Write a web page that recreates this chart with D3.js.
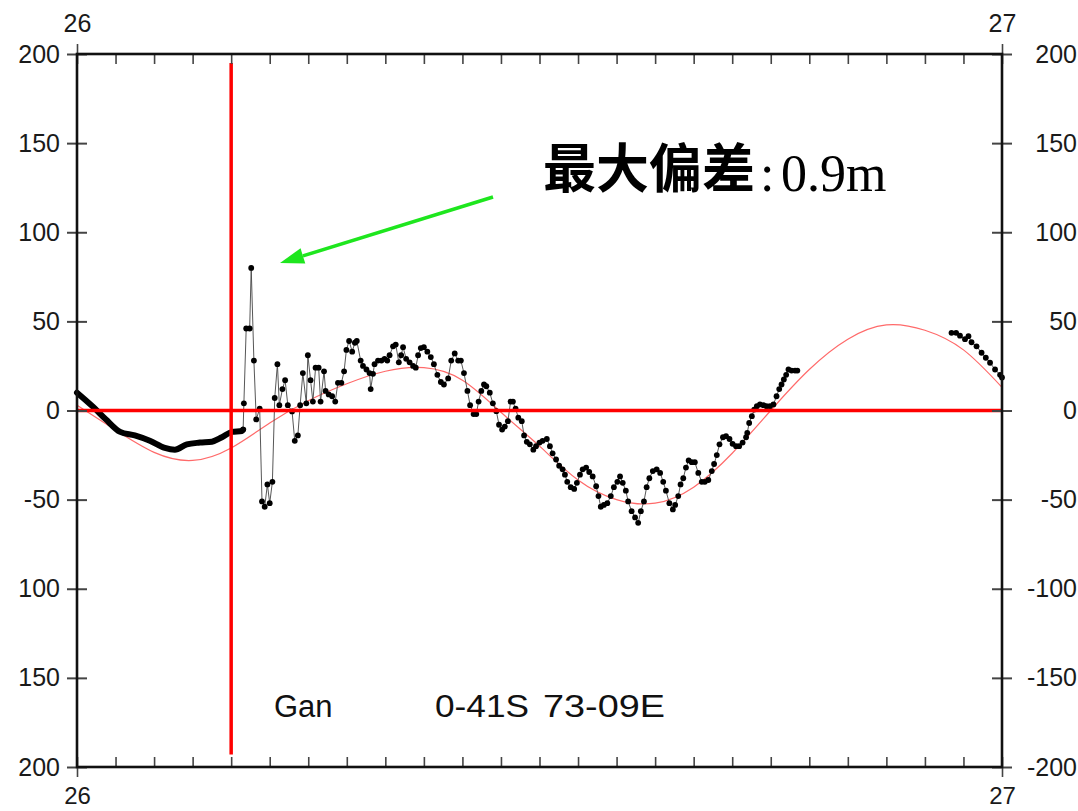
<!DOCTYPE html>
<html>
<head>
<meta charset="utf-8">
<script src="https://cdn.jsdelivr.net/npm/d3@7"></script>
<style>
  html, body { margin: 0; padding: 0; background: #fff; }
  svg { display: block; }
  .tick text { font-family: "Liberation Sans", Arial, sans-serif; font-size: 25px; fill: #1a1a1a; }
</style>
</head>
<body>
<svg id="chart" width="1078" height="811"></svg>
<script>
// day labels at both ends of the time axis (hours 0 and 24)
const dayLabels = ["26", "27"];
const hourTicks = [0,1,2,3,4,5,6,7,8,9,10,11,12,13,14,15,16,17,18,19,20,21,22,23,24];

// sea level ticks (cm)
const levelTicks = [200, 150, 100, 50, 0, -50, -100, -150, -200];
const leftLabels = ["200", "150", "100", "50", "0", "-50", "100", "150", "200"];
const rightLabels = ["200", "150", "100", "50", "0", "-50", "-100", "-150", "-200"];

// predicted tide, hourly
const predHours = [0,1,2,3,4,5,6,7,8,9,10,11,12,13,14,15,16,17,18,19,20,21,22,23,24];
const predLevel = [3, -11, -23.5, -28, -21, -7, 5.5, 15, 22, 24, 17, -1, -20, -39, -50, -52, -43, -24, 0, 23, 40, 48, 45, 34, 13];

// observed, dense part before the arrival (drawn as a thick trace)
const denseHours = [0.00, 0.42, 0.75, 1.12, 1.50, 1.89, 2.28, 2.54, 2.85, 3.19, 3.50, 3.76, 4.02, 4.28, 4.31];
const denseLevel = [10, 2, -5, -12, -14, -17, -21, -22, -19, -18, -17.5, -15, -12, -11.5, -10.7];

// observed samples after the arrival
const obsHours = [4.31, 4.33, 4.39, 4.48, 4.52, 4.59, 4.65, 4.74, 4.80, 4.87, 4.94, 5.00, 5.07, 5.13, 5.20, 5.25,
  5.33, 5.40, 5.47, 5.58, 5.65, 5.73, 5.79, 5.86, 5.95, 5.99, 6.06, 6.12, 6.19, 6.27, 6.32, 6.41, 6.45, 6.53,
  6.62, 6.70, 6.77, 6.86, 6.93, 6.99, 7.06, 7.14, 7.21, 7.26, 7.36, 7.42, 7.51, 7.59, 7.62, 7.68, 7.72, 7.81,
  7.90, 7.98, 8.05, 8.11, 8.20, 8.27, 8.35, 8.41, 8.46, 8.54, 8.63, 8.72, 8.79, 8.85, 8.92, 9.00, 9.09, 9.18,
  9.26, 9.35, 9.44, 9.52, 9.63, 9.71, 9.80, 9.89, 9.96, 10.04, 10.13, 10.20, 10.29, 10.36, 10.42, 10.49, 10.56,
  10.62, 10.71, 10.79, 10.88, 10.95, 11.03, 11.10, 11.18, 11.25, 11.31, 11.38, 11.45, 11.54, 11.60, 11.67,
  11.75, 11.84, 11.91, 12.00, 12.08, 12.19, 12.27, 12.34, 12.43, 12.51, 12.60, 12.66, 12.72, 12.81, 12.90,
  12.97, 13.05, 13.12, 13.21, 13.29, 13.38, 13.47, 13.53, 13.59, 13.67, 13.76, 13.85, 13.93, 14.02, 14.09,
  14.16, 14.24, 14.30, 14.39, 14.48, 14.56, 14.63, 14.71, 14.78, 14.85, 14.94, 15.04, 15.13, 15.21, 15.28,
  15.37, 15.46, 15.52, 15.60, 15.66, 15.73, 15.80, 15.87, 15.95, 16.03, 16.12, 16.21, 16.29, 16.38, 16.47,
  16.53, 16.60, 16.67, 16.76, 16.84, 16.93, 17.01, 17.10, 17.18, 17.27, 17.36, 17.39, 17.44, 17.51, 17.57,
  17.64, 17.72, 17.81, 17.89, 17.98, 18.07, 18.15, 18.22, 18.28, 18.34, 18.40, 18.46, 18.54, 18.63, 18.69];
const obsLevel = [-10.7, 4, 46, 46, 80, 28, -5, 1, -51, -54, -41.5, -52, -40, 7, 26, 3,
  12, 17, 3, -0.5, -17, -14, 3, 21, 4, 31, 17, 5, 24, 24, 5, 22, 11, 9,
  8, 5, 15.5, 15.5, 22, 34, 39, 33, 38, 39, 28, 25, 23, 21, 12, 20.6, 26, 28,
  28, 29, 28, 31, 36, 37, 27, 31, 35.5, 29, 27, 25, 24, 31, 35, 35.5, 33, 30,
  26, 20, 16, 14.6, 18, 28, 32, 28, 28, 21, 11, 3, -2, -2, 5, 11, 14.6,
  13.6, 10, 4, -0.4, -8, -10.7, -9, -6, 5, 5, 1, -4, -6, -14, -17.6,
  -19, -22, -20, -18, -17, -16, -20, -24, -27.5, -31, -33, -36, -40, -43, -44,
  -40.6, -36, -33, -32, -34.5, -37, -42.5, -48, -54, -53, -52, -48, -43, -40, -37,
  -40.6, -45, -51, -56.5, -60, -63, -56.5, -51, -43, -38, -34, -33, -35, -40, -45,
  -52, -55.5, -53, -48, -41.5, -38, -32, -28, -29, -29, -35, -40, -40, -39, -34,
  -30, -25, -19, -15, -14.4, -16, -18.7, -20, -20, -18, -15, -12.5, -7, -3.2, 0.5,
  2.4, 3.4, 3, 2.4, 2.4, 3.4, 8, 12, 14.6, 17.4, 20, 23, 22.4, 22.4, 22.4];

// observed samples at the end of the day
const tailHours = [22.69, 22.81, 22.91, 23.04, 23.13, 23.21, 23.34, 23.47, 23.58, 23.69, 23.82, 23.95, 24.0];
const tailLevel = [43.6, 43.6, 42, 40, 41.7, 38.3, 36, 32.4, 29.6, 26.8, 23, 20, 18.5];

// arrival marker (hour) and station text
const arrivalHour = 4;
const station = "Gan";
const position = ["0-41S", "73-09E"];
const noteCjk = "最大偏差";
const noteValue = [":", "0.9m"];

const svg = d3.select("#chart");
const plotL = 77, plotR = 1002, plotT = 54, plotB = 767;

const x = d3.scaleLinear().domain([0, 24]).range([plotL, plotR]);
const y = d3.scaleLinear().domain([-200, 200]).range([plotB, plotT]);

const zip = (a, b) => a.map((d, i) => [d, b[i]]);
const pred = zip(predHours, predLevel);
const dense = zip(denseHours, denseLevel);
const obs = zip(obsHours, obsLevel);
const tail = zip(tailHours, tailLevel);

// predicted tide
svg.append("path")
    .datum(pred)
    .attr("fill", "none")
    .attr("stroke", "#ff6a6a")
    .attr("stroke-width", 1.2)
    .attr("d", d3.line().x(d => x(d[0])).y(d => y(d[1])).curve(d3.curveNatural));

// dense trace
svg.append("path")
    .datum(dense)
    .attr("fill", "none")
    .attr("stroke", "#000")
    .attr("stroke-width", 6)
    .attr("stroke-linecap", "round")
    .attr("stroke-linejoin", "round")
    .attr("d", d3.line().x(d => x(d[0])).y(d => y(d[1])).curve(d3.curveMonotoneX));

// sampled series: thin connecting line + dots
[obs, tail].forEach(series => {
  svg.append("path")
      .datum(series)
      .attr("fill", "none")
      .attr("stroke", "#444")
      .attr("stroke-width", 0.9)
      .attr("d", d3.line().x(d => x(d[0])).y(d => y(d[1])));
  svg.append("g")
    .selectAll("circle")
    .data(series)
    .join("circle")
      .attr("cx", d => x(d[0]))
      .attr("cy", d => y(d[1]))
      .attr("r", 2.9)
      .attr("fill", "#000");
});

// red reference lines
svg.append("line")
    .attr("x1", x(0)).attr("x2", x(24))
    .attr("y1", y(0)).attr("y2", y(0))
    .attr("stroke", "#ff0000").attr("stroke-width", 3.5);
svg.append("line")
    .attr("x1", x(arrivalHour)).attr("x2", x(arrivalHour))
    .attr("y1", y(195)).attr("y2", y(-193))
    .attr("stroke", "#ff0000").attr("stroke-width", 3.5);

// axes
const leftAxis = svg.append("g")
    .attr("transform", `translate(${plotL},0)`)
    .call(d3.axisLeft(y).tickValues(levelTicks).tickSize(0).tickPadding(17)
      .tickFormat((d, i) => leftLabels[i]));
leftAxis.selectAll(".tick line").attr("x1", -10).attr("x2", 10)
    .attr("stroke", "#444").attr("stroke-width", 2);

const rightAxis = svg.append("g")
    .attr("transform", `translate(${plotR},0)`)
    .call(d3.axisRight(y).tickValues(levelTicks).tickSize(0)
      .tickFormat((d, i) => rightLabels[i]));
rightAxis.selectAll(".tick line").attr("x1", -10).attr("x2", 10)
    .attr("stroke", "#444").attr("stroke-width", 2);
rightAxis.selectAll(".tick text").attr("x", 75).attr("text-anchor", "end");

const topAxis = svg.append("g")
    .attr("transform", `translate(0,${plotT})`)
    .call(d3.axisTop(x).tickValues(hourTicks).tickSize(-10).tickPadding(22)
      .tickFormat(d => d === 0 ? dayLabels[0] : d === 24 ? dayLabels[1] : ""));
const bottomAxis = svg.append("g")
    .attr("transform", `translate(0,${plotB})`)
    .call(d3.axisBottom(x).tickValues(hourTicks).tickSize(-10).tickPadding(20)
      .tickFormat(d => d === 0 ? dayLabels[0] : d === 24 ? dayLabels[1] : ""));
bottomAxis.selectAll(".tick text").style("font-size", "24px");
[topAxis, bottomAxis].forEach(g => {
  g.selectAll(".tick line").attr("stroke", "#444").attr("stroke-width", 1.6);
  g.selectAll(".tick").filter(d => d === 0 || d === 24)
    .select("line").attr("y1", -10).attr("y2", 10);
});
svg.selectAll(".domain").remove();

// frame
svg.append("rect")
    .attr("x", plotL).attr("y", plotT)
    .attr("width", plotR - plotL).attr("height", plotB - plotT)
    .attr("fill", "none").attr("stroke", "#111").attr("stroke-width", 2.6);

// station label
const labelFont = "'Liberation Sans', Arial, sans-serif";
svg.append("text")
    .attr("x", 274).attr("y", 717)
    .attr("font-family", labelFont).attr("font-size", 31).attr("fill", "#111")
    .text(station);
svg.append("text")
    .attr("x", 435).attr("y", 717)
    .attr("font-family", labelFont).attr("font-size", 31).attr("fill", "#111")
    .attr("textLength", 94).attr("lengthAdjust", "spacingAndGlyphs")
    .text(position[0]);
svg.append("text")
    .attr("x", 543).attr("y", 717)
    .attr("font-family", labelFont).attr("font-size", 31).attr("fill", "#111")
    .attr("textLength", 122).attr("lengthAdjust", "spacingAndGlyphs")
    .text(position[1]);

// annotation
const serif = "'Liberation Serif', 'Times New Roman', serif";
svg.append("text")
    .attr("x", 543).attr("y", 188)
    .attr("font-family", "'Noto Sans CJK SC', sans-serif")
    .attr("font-weight", 700).attr("font-size", 53).attr("fill", "#000")
    .text(noteCjk);
svg.append("text")
    .attr("x", 760).attr("y", 191)
    .attr("font-family", serif).attr("font-size", 52).attr("fill", "#000")
    .text(noteValue[0]);
svg.append("text")
    .attr("x", 781).attr("y", 191)
    .attr("font-family", serif).attr("font-size", 52).attr("fill", "#000")
    .text(noteValue[1]);

// green arrow
const arrowStart = [493, 197], arrowTip = [280, 263];
const ang = Math.atan2(arrowTip[1] - arrowStart[1], arrowTip[0] - arrowStart[0]);
const headLen = 24, headW = 8;
const base = [arrowTip[0] - headLen * Math.cos(ang), arrowTip[1] - headLen * Math.sin(ang)];
svg.append("line")
    .attr("x1", arrowStart[0]).attr("y1", arrowStart[1])
    .attr("x2", base[0]).attr("y2", base[1])
    .attr("stroke", "#1ee61e").attr("stroke-width", 3.5);
svg.append("path")
    .attr("d", d3.line()([
      arrowTip,
      [base[0] + headW * Math.sin(ang), base[1] - headW * Math.cos(ang)],
      [base[0] - headW * Math.sin(ang), base[1] + headW * Math.cos(ang)]
    ]) + "Z")
    .attr("fill", "#1ee61e");
</script>
</body>
</html>
